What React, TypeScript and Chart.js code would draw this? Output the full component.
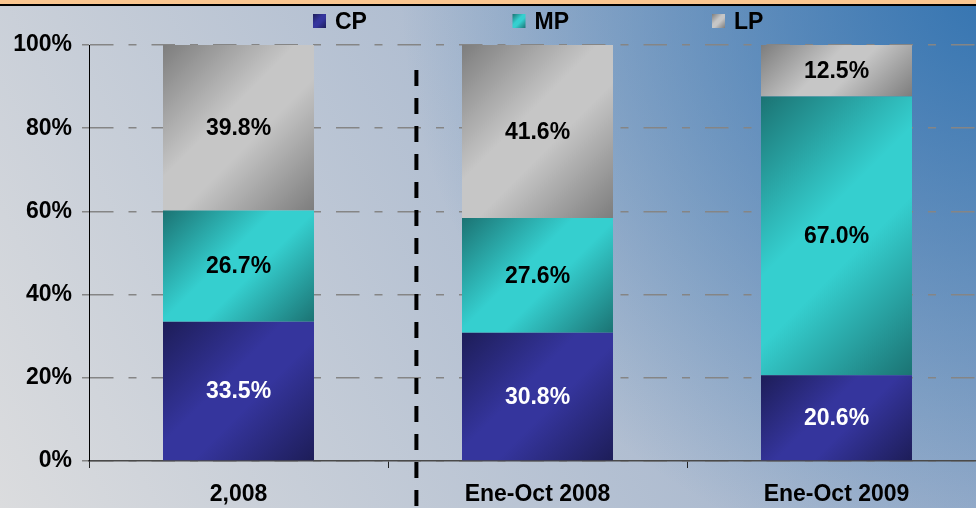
import React, { useEffect, useRef } from 'react';
import { Chart, registerables } from 'chart.js';

Chart.register(...registerables);

const categories = ['2,008', 'Ene-Oct 2008', 'Ene-Oct 2009'];
const seriesNames = ['CP', 'MP', 'LP'];
const cpValues = [33.5, 30.8, 20.6];
const mpValues = [26.7, 27.6, 67.0];
const lpValues = [39.8, 41.6, 12.5];
const yTickValues = [0, 20, 40, 60, 80, 100];

const seriesValues = [cpValues, mpValues, lpValues];
const palette = [
  { dark: '#1d1d58', light: '#35359d', text: '#ffffff' },
  { dark: '#1b7373', light: '#35cfcf', text: '#000000' },
  { dark: '#7d7d7d', light: '#c6c6c6', text: '#000000' },
];

const FONT = '"Liberation Sans", Arial, sans-serif';
const BAR_PCT = 0.505;

function diagGradient(ctx: CanvasRenderingContext2D, x0: number, y0: number, w: number, h: number, s: number) {
  const L = (w + h) / 2;
  const g = ctx.createLinearGradient(x0, y0, x0 + L, y0 + L);
  const p = palette[s];
  g.addColorStop(0, p.dark);
  g.addColorStop(0.42, p.light);
  g.addColorStop(0.58, p.light);
  g.addColorStop(1, p.dark);
  return g;
}

function segmentFill(s: number) {
  return (c: any) => {
    const chart = c.chart;
    if (c.type !== 'data' || !chart.chartArea || !chart.scales.x || !chart.scales.y) return palette[s].light;
    const xs = chart.scales.x;
    const ys = chart.scales.y;
    const i = c.dataIndex;
    let lower = 0;
    for (let k = 0; k < s; k++) lower += seriesValues[k][i];
    const upper = Math.min(100, lower + seriesValues[s][i]);
    const w = (xs.width / categories.length) * BAR_PCT;
    const x0 = xs.getPixelForValue(i) - w / 2;
    const yTop = ys.getPixelForValue(upper);
    const yBot = ys.getPixelForValue(lower);
    return diagGradient(chart.ctx, x0, yTop, w, yBot - yTop, s);
  };
}

const backgroundPlugin = {
  id: 'bgPlugin',
  beforeDraw(chart: any) {
    const ctx = chart.ctx as CanvasRenderingContext2D;
    const W = chart.width;
    const H = chart.height;
    ctx.save();
    const lg = ctx.createLinearGradient(0, H, 976, 0);
    lg.addColorStop(0, '#dbdcde');
    lg.addColorStop(1, '#8ca4c6');
    ctx.fillStyle = lg;
    ctx.fillRect(0, 0, W, H);
    const rg = ctx.createRadialGradient(1000, -20, 0, 1000, -20, 600);
    rg.addColorStop(0, 'rgba(48,114,176,0.97)');
    rg.addColorStop(1, 'rgba(48,114,176,0)');
    ctx.fillStyle = rg;
    ctx.fillRect(0, 0, W, H);
    ctx.fillStyle = '#fac690';
    ctx.fillRect(0, 0, W, 4);
    ctx.fillStyle = '#000000';
    ctx.fillRect(0, 4, W, 2);
    ctx.restore();
  },
};

const overlayPlugin = {
  id: 'overlayPlugin',
  afterDatasetsDraw(chart: any) {
    const ctx = chart.ctx as CanvasRenderingContext2D;
    ctx.save();
    ctx.font = `bold 23px ${FONT}`;
    ctx.textAlign = 'center';
    ctx.textBaseline = 'middle';
    chart.data.datasets.forEach((ds: any, s: number) => {
      const meta = chart.getDatasetMeta(s);
      meta.data.forEach((el: any, i: number) => {
        const v = ds.data[i];
        ctx.fillStyle = palette[s].text;
        ctx.fillText(v.toFixed(1) + '%', el.x, (el.y + el.base) / 2 + 1);
      });
    });
    ctx.restore();
  },
  afterDraw(chart: any) {
    const ctx = chart.ctx as CanvasRenderingContext2D;
    const xs = chart.scales.x;
    const ys = chart.scales.y;
    ctx.save();
    // separator dashed line
    const sx = xs.getPixelForValue(0.595);
    ctx.strokeStyle = '#000000';
    ctx.lineWidth = 4;
    ctx.setLineDash([16, 12]);
    ctx.beginPath();
    ctx.moveTo(sx, ys.getPixelForValue(94));
    ctx.lineTo(sx, chart.height + 20);
    ctx.stroke();
    ctx.setLineDash([]);
    // legend
    ctx.font = `bold 23px ${FONT}`;
    ctx.textAlign = 'left';
    ctx.textBaseline = 'alphabetic';
    seriesNames.forEach((name, s) => {
      const bx = 313 + s * 199.5;
      const by = 14;
      ctx.fillStyle = diagGradient(ctx, bx, by, 13, 14, s);
      ctx.fillRect(bx, by, 13, 14);
      ctx.fillStyle = '#000000';
      ctx.fillText(name, bx + 22, 28.5);
    });
    ctx.restore();
  },
};

export default function App() {
  const ref = useRef<HTMLCanvasElement | null>(null);
  useEffect(() => {
    if (!ref.current) return;
    const chart = new Chart(ref.current, {
      type: 'bar',
      data: {
        labels: categories,
        datasets: seriesNames.map((name, s) => ({
          label: name,
          data: seriesValues[s],
          backgroundColor: segmentFill(s),
          borderWidth: 0,
          barPercentage: BAR_PCT,
          categoryPercentage: 1,
        })),
      },
      options: {
        responsive: false,
        animation: false,
        devicePixelRatio: 1,
        layout: { padding: { top: 45, left: 0, right: 0, bottom: 0 } },
        plugins: {
          legend: { display: false },
          tooltip: { enabled: false },
          title: { display: false },
        },
        scales: {
          x: {
            stacked: true,
            offset: true,
            afterFit: (sc: any) => { sc.height = 47; },
            grid: {
              display: true,
              offset: true,
              drawOnChartArea: false,
              drawTicks: true,
              tickLength: 7,
              tickColor: '#222222',
              tickWidth: 1,
            },
            border: { display: true, color: '#4a4a4a', width: 1.5 },
            ticks: {
              color: '#000000',
              padding: 13,
              maxRotation: 0,
              autoSkip: false,
              font: { family: FONT, size: 23, weight: 'bold' },
            },
          },
          y: {
            stacked: true,
            min: 0,
            max: 100,
            afterFit: (sc: any) => { sc.width = 89; },
            afterBuildTicks: (sc: any) => { sc.ticks = yTickValues.map((v) => ({ value: v })); },
            grid: {
              display: true,
              color: '#858585',
              lineWidth: 1.5,
              drawTicks: true,
              tickLength: 7,
              tickColor: '#858585',
              tickWidth: 1.5,
            },
            border: { display: true, color: '#000000', width: 1, dash: [23.5, 15, 8, 15], dashOffset: 0 },
            ticks: {
              color: '#000000',
              padding: 10,
              callback: (v: any) => `${v}%`,
              font: { family: FONT, size: 23, weight: 'bold' },
            },
          },
        },
      },
      plugins: [backgroundPlugin, overlayPlugin],
    } as any);
    return () => chart.destroy();
  }, []);
  return (
    <div style={{ position: 'fixed', left: 0, top: 0, width: 976, height: 508, overflow: 'hidden' }}>
      <canvas ref={ref} width={986} height={508} style={{ display: 'block' }} />
    </div>
  );
}
